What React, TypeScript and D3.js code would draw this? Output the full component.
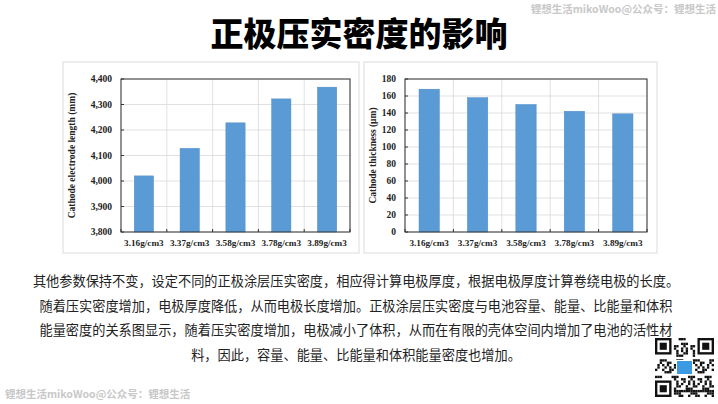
import * as d3 from "d3";
import React from "react";

const categories = ["3.16g/cm3", "3.37g/cm3", "3.58g/cm3", "3.78g/cm3", "3.89g/cm3"];
const lengthValues = [4020, 4128, 4228, 4322, 4368];
const thicknessValues = [168, 158, 150, 142, 139];
const lengthTicks = [3800, 3900, 4000, 4100, 4200, 4300, 4400];
const thicknessTicks = [0, 20, 40, 60, 80, 100, 120, 140, 160, 180];

const titleText = "正极压实密度的影响";
const watermark = "锂想生活mikoWoo@公众号：锂想生活";
const bodyLines = [
  "其他参数保持不变，设定不同的正极涂层压实密度，相应得计算电极厚度，根据电极厚度计算卷绕电极的长度。",
  "随着压实密度增加，电极厚度降低，从而电极长度增加。正极涂层压实密度与电池容量、能量、比能量和体积",
  "能量密度的关系图显示，随着压实密度增加，电极减小了体积，从而在有限的壳体空间内增加了电池的活性材",
  "料，因此，容量、能量、比能量和体积能量密度也增加。",
];

const serif = "'Liberation Serif', 'Times New Roman', serif";
const cjk = "'Noto Sans CJK SC', sans-serif";

type ChartProps = {
  box: [number, number, number, number];
  plot: [number, number, number, number];
  values: number[];
  ticks: number[];
  domain: [number, number];
  label: string;
  fmt: (v: number) => string;
};

function BarChart({ box, plot, values, ticks, domain, label, fmt }: ChartProps) {
  const [bx, by, bw, bh] = box;
  const [left, top, right, bottom] = plot;
  const x = d3.scaleBand().domain(categories).range([left, right]).paddingInner(0.58).paddingOuter(0.29);
  const y = d3.scaleLinear().domain(domain).range([bottom, top]);
  const step = (right - left) / categories.length;
  const bounds = d3.range(categories.length + 1).map((i) => left + i * step);
  return (
    <g>
      <rect x={bx} y={by} width={bw} height={bh} fill="#fff" stroke="#dcdcdc" strokeWidth={1} />
      {ticks.map((t) => (
        <line key={"h" + t} x1={left} x2={right} y1={y(t)} y2={y(t)} stroke="#d9d9d9" strokeWidth={0.8} />
      ))}
      {bounds.map((b, i) => (
        <line key={"v" + i} x1={b} x2={b} y1={top} y2={bottom} stroke="#d9d9d9" strokeWidth={0.8} />
      ))}
      {values.map((v, i) => (
        <rect key={i} x={x(categories[i])} y={y(v)} width={x.bandwidth()} height={bottom - y(v)} fill="#5b9bd5" stroke="#4a8ac8" strokeWidth={0.5} />
      ))}
      <rect x={left} y={top} width={right - left} height={bottom - top} fill="none" stroke="#333" strokeWidth={1} />
      {ticks.map((t) => (
        <g key={"t" + t}>
          <line x1={left} x2={left + 3} y1={y(t)} y2={y(t)} stroke="#333" />
          <text x={left - 9} y={y(t)} dy="0.35em" textAnchor="end" fontFamily={serif} fontWeight="bold" fontSize={9.5} fill="#222">
            {fmt(t)}
          </text>
        </g>
      ))}
      {bounds.map((b, i) => (
        <line key={"xt" + i} x1={b} x2={b} y1={bottom} y2={bottom - 3} stroke="#333" />
      ))}
      {categories.map((c) => (
        <text key={c} x={(x(c) ?? 0) + x.bandwidth() / 2} y={bottom + 14} textAnchor="middle" fontFamily={serif} fontWeight="bold" fontSize={9.2} fill="#222">
          {c}
        </text>
      ))}
      <text
        transform={`translate(${bx + 9},${(top + bottom) / 2}) rotate(-90)`}
        dy="0.35em"
        textAnchor="middle"
        fontFamily={serif}
        fontWeight="bold"
        fontSize={9.5}
        fill="#222"
      >
        {label}
      </text>
    </g>
  );
}

function QrMark({ x0, y0, size }: { x0: number; y0: number; size: number }) {
  const n = 25;
  const c = size / n;
  const cells: [number, number][] = [];
  for (let r = 0; r < n; r++) {
    for (let k = 0; k < n; k++) {
      const inFinder = (r < 8 && k < 8) || (r < 8 && k > n - 9) || (r > n - 9 && k < 8);
      if (inFinder) continue;
      const h = ((r + 3) * 2654435761 + (k + 7) * 40503 + r * k * 97) >>> 0;
      if (h % 7 < 3) cells.push([r, k]);
    }
  }
  const finders = [[0, 0], [0, n - 7], [n - 7, 0]];
  return (
    <g>
      <rect x={x0} y={y0} width={size} height={size} fill="#fff" />
      {cells.map(([r, k]) => (
        <rect key={r + "_" + k} x={x0 + k * c} y={y0 + r * c} width={c} height={c} fill="#111" />
      ))}
      {finders.map(([r, k], i) => (
        <g key={i}>
          <rect x={x0 + k * c} y={y0 + r * c} width={7 * c} height={7 * c} fill="#111" />
          <rect x={x0 + (k + 1) * c} y={y0 + (r + 1) * c} width={5 * c} height={5 * c} fill="#fff" />
          <rect x={x0 + (k + 2) * c} y={y0 + (r + 2) * c} width={3 * c} height={3 * c} fill="#111" />
        </g>
      ))}
      <rect x={x0 + size / 2 - 8} y={y0 + size / 2 - 7} width={16} height={14} fill="#3b9ae1" stroke="#fff" strokeWidth={1} />
    </g>
  );
}

export default function App() {
  return (
    <svg width={718} height={404} style={{ position: "absolute", left: 0, top: 0, background: "#fff" }}>
      <text x={359} y={46} textAnchor="middle" fontFamily={cjk} fontWeight={900} fontSize={33} fill="#000">
        {titleText}
      </text>
      <text x={716} y={13} textAnchor="end" fontFamily={cjk} fontWeight="bold" fontSize={10.5} fill="#c8c8c8">
        {watermark}
      </text>
      <BarChart
        box={[63, 62, 296, 191]}
        plot={[121, 79, 350, 232]}
        values={lengthValues}
        ticks={lengthTicks}
        domain={[3800, 4400]}
        label="Cathode electrode length (mm)"
        fmt={d3.format(",")}
      />
      <BarChart
        box={[364, 62, 293, 191]}
        plot={[405, 79, 647, 232]}
        values={thicknessValues}
        ticks={thicknessTicks}
        domain={[0, 180]}
        label="Cathode thickness (μm)"
        fmt={d3.format("d")}
      />
      {bodyLines.map((l, i) => (
        <text key={i} x={356} y={286 + i * 24.5} textAnchor="middle" fontFamily={cjk} fontSize={13.2} fill="#222">
          {l}
        </text>
      ))}
      <text x={5} y={398} fontFamily={cjk} fontWeight="bold" fontSize={10.5} fill="#c8c8c8">
        {watermark}
      </text>
      <QrMark x0={655} y0={338} size={59} />
    </svg>
  );
}
